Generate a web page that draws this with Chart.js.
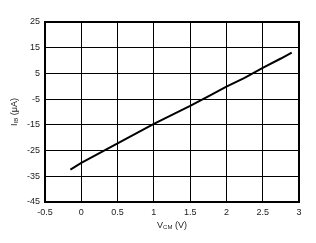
<!DOCTYPE html>
<html><head><meta charset="utf-8">
<script src="https://cdn.jsdelivr.net/npm/chart.js@4"></script>
<style>html,body{margin:0;padding:0;background:#fff}#wrap{width:316px;height:243px}</style>
</head><body><div id="wrap"><canvas id="c" width="316" height="243"></canvas></div>
<script>
const vcm = [-0.15, 0, 0.25, 0.5, 0.75, 1.0, 1.25, 1.5, 1.75, 2.0, 2.25, 2.5, 2.75, 2.9];
const iib = [-32.4, -29.8, -26.0, -22.2, -18.4, -14.6, -11.1, -7.6, -3.9, -0.1, 3.3, 7.2, 10.8, 13.1];
const xTicks = [-0.5, 0, 0.5, 1, 1.5, 2, 2.5, 3];
const yTicks = [-45, -35, -25, -15, -5, 5, 15, 25];
const FONT = 'Liberation Sans, Arial, sans-serif';

const titles = {
  id: 'titles',
  afterDraw(chart) {
    const ctx = chart.ctx, a = chart.chartArea;
    ctx.save();
    ctx.fillStyle = '#222';
    ctx.textBaseline = 'middle';
    function parts(list) {
      let w = 0;
      list.forEach(p => { ctx.font = p[1] + 'px ' + FONT; w += ctx.measureText(p[0]).width; });
      return w;
    }
    function drawParts(list, x, y) {
      list.forEach(p => {
        ctx.font = p[1] + 'px ' + FONT;
        ctx.fillText(p[0], x, y + (p[2] || 0));
        x += ctx.measureText(p[0]).width;
      });
    }
    const xt = [['V', 9], ['CM', 6, 1.5], [' (V)', 9]];
    const cx = (a.left + a.right) / 2;
    ctx.textAlign = 'left';
    drawParts(xt, cx - parts(xt) / 2, 226);
    const yt = [['I', 9], ['IB', 6, 1.5], [' (\u03bcA)', 9]];
    ctx.translate(15, (a.top + a.bottom) / 2);
    ctx.rotate(-Math.PI / 2);
    drawParts(yt, -parts(yt) / 2, 0);
    ctx.restore();
  }
};

new Chart(document.getElementById('c'), {
  type: 'scatter',
  data: { datasets: [{ data: vcm.map((v, i) => ({ x: v, y: iib[i] })), showLine: true,
    borderColor: '#000', borderWidth: 2, pointRadius: 0, tension: 0 }] },
  options: {
    responsive: false, animation: false, devicePixelRatio: 1,
    layout: { padding: { top: 22, right: 17, left: 0, bottom: 0 } },
    plugins: { legend: { display: false }, tooltip: { enabled: false } },
    scales: {
      x: {
        type: 'linear', min: -0.5, max: 3,
        afterBuildTicks: s => { s.ticks = xTicks.map(v => ({ value: v })); },
        afterFit: s => { s.height = 41; },
        ticks: { padding: 5, color: '#222', font: { family: FONT, size: 9 }, maxRotation: 0,
          callback: v => String(v) },
        grid: { color: '#000', lineWidth: 1, drawTicks: false },
        border: { color: '#000', width: 2 }
      },
      y: {
        type: 'linear', min: -45, max: 25,
        afterBuildTicks: s => { s.ticks = yTicks.map(v => ({ value: v })); },
        afterFit: s => { s.width = 45; },
        ticks: { padding: 5, color: '#222', font: { family: FONT, size: 9 }, callback: v => String(v) },
        grid: { color: '#000', lineWidth: 1, drawTicks: false },
        border: { color: '#000', width: 2 }
      }
    }
  },
  plugins: [titles, {
    id: 'frame',
    afterDatasetsDraw(chart) {
      const ctx = chart.ctx, a = chart.chartArea;
      ctx.save(); ctx.strokeStyle = '#000'; ctx.lineWidth = 2;
      ctx.strokeRect(a.left, a.top, a.right - a.left, a.bottom - a.top);
      ctx.restore();
    }
  }]
});
</script></body></html>
